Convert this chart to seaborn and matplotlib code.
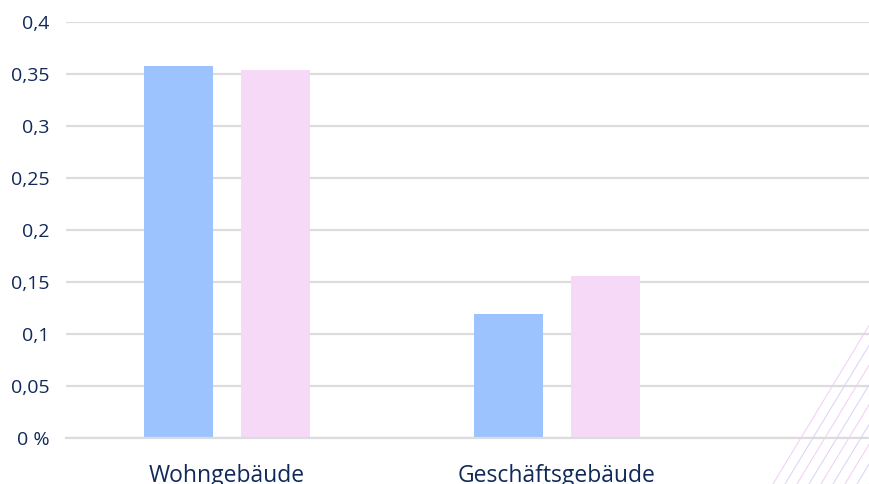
import numpy as np
import pandas as pd
import matplotlib
matplotlib.use("Agg")
import matplotlib.pyplot as plt
import seaborn as sbn
from matplotlib.ticker import FuncFormatter
from matplotlib.lines import Line2D

# daten
kategorien = ["Wohngebäude", "Geschäftsgebäude"]
serie_1 = [0.358, 0.119]
serie_2 = [0.354, 0.156]
serien_namen = ["Serie 1", "Serie 2"]
renkler = ["#9dc3fe", "#f5d9f7"]
y_ticks = [0, 0.05, 0.1, 0.15, 0.2, 0.25, 0.3, 0.35, 0.4]

df = pd.DataFrame({
    "Kategorie": kategorien * 2,
    "Wert": serie_1 + serie_2,
    "Serie": [serien_namen[0]] * 2 + [serien_namen[1]] * 2,
})

sbn.set_style("white")
plt.rcParams["font.family"] = ["Open Sans", "DejaVu Sans"]

textfarbe = "#10295a"
gitter = "#dcdcdc"

fig = plt.figure(figsize=(8.7, 4.84), dpi=100)
ax = fig.add_axes([66 / 870, 46 / 484, 1 - 66 / 870, (438 - 22) / 484])

sbn.barplot(data=df, x="Kategorie", y="Wert", hue="Serie", palette=renkler,
            width=0.59, gap=0.29, legend=False, ax=ax, saturation=1, linewidth=0)

ax.set_ylim(0, 0.4)
ax.set_xlim(-0.489, 1.951)
ax.set_yticks(y_ticks)

def fmt(v, pos):
    if v == 0:
        return "0 %"
    return ("%g" % round(v, 2)).replace(".", ",")

ax.yaxis.set_major_formatter(FuncFormatter(fmt))
ax.grid(axis="y", color=gitter, linewidth=1.6)
ax.set_axisbelow(True)
for s in ["top", "right", "left"]:
    ax.spines[s].set_visible(False)
ax.spines["bottom"].set_color(gitter)
ax.spines["bottom"].set_linewidth(1.6)
ax.tick_params(axis="y", length=0, pad=12, labelsize=14, labelcolor=textfarbe)
ax.tick_params(axis="x", length=0, pad=19, labelsize=16.5, labelcolor=textfarbe)
for lab in ax.get_yticklabels():
    lab.set_horizontalalignment("right")
ax.set_xlabel("")
ax.set_ylabel("")

# dekorative diagonale linien unten rechts
for i in range(9):
    x0 = 773 + 12 * i
    y0 = 0
    x1 = x0 + 110
    y1 = 110 * 1.65
    c = "#f2cdf7" if i % 2 == 0 else "#dccffb"
    fig.add_artist(Line2D([x0 / 870, x1 / 870], [y0 / 484, y1 / 484],
                          transform=fig.transFigure, color=c, linewidth=0.7))

plt.savefig("out.png", dpi=100)
